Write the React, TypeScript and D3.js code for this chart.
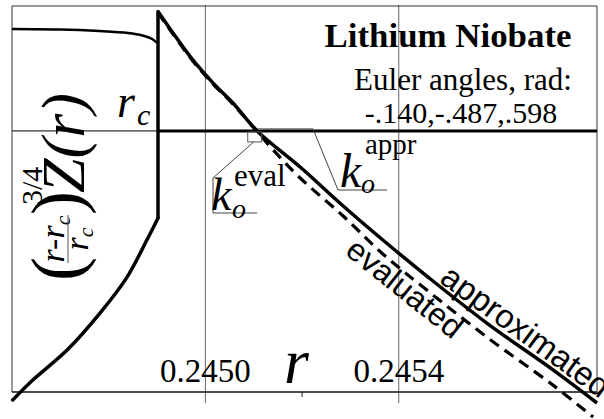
import React from "react";
import * as d3 from "d3";

// axis ranges
const rDomain = [0.2446, 0.24581];
const valueDomain = [-2.09, 1.0];
const rc = 0.244902;

const gridR = [0.245, 0.2454];
const gridLabels = ["0.2450", "0.2454"];
const minorR = [0.2452];

// r < rc, upper (thin) branch
const upperR = [0.2446, 0.2447, 0.24478, 0.24484, 0.24487, 0.24489, 0.2449];
const upperV = [0.816, 0.812, 0.8, 0.784, 0.764, 0.736, 0.704];

// r < rc, lower branch, ends at the jump
const lowerR = [0.2446015, 0.244643, 0.244714, 0.244782, 0.244838, 0.244879, 0.244898, 0.244902];
const lowerV = [-2.154, -1.994, -1.754, -1.458, -1.17, -0.873, -0.729, -0.697];

// r > rc, approximated
const apprR = [0.244902, 0.244933, 0.244974, 0.245016, 0.245057, 0.245107, 0.245196, 0.245285, 0.245367, 0.245458, 0.245582, 0.245719, 0.24581];
const apprV = [0.956, 0.784, 0.568, 0.383, 0.223, 0, -0.289, -0.601, -0.873, -1.162, -1.538, -1.913, -2.178];

// r > rc, evaluated
const evalR = [0.244902, 0.244933, 0.244974, 0.245016, 0.245057, 0.245107, 0.245144, 0.245196, 0.245285, 0.245367, 0.245458, 0.245582, 0.245719, 0.245802];
const evalV = [0.948, 0.776, 0.56, 0.375, 0.215, -0.005, -0.168, -0.377, -0.681, -0.985, -1.274, -1.65, -2.035, -2.291];

const koEval = 0.2451;
const koAppr = 0.245107;

const serif = "'Liberation Serif', 'Times New Roman', serif";
const sans = "'Liberation Sans', Arial, sans-serif";

const App = () => {
  const x = d3.scaleLinear().domain(rDomain).range([12, 597]);
  const y = d3.scaleLinear().domain(valueDomain).range([392, 6]);

  const line = d3
    .line<[number, number]>()
    .x((d) => x(d[0]))
    .y((d) => y(d[1]))
    .curve(d3.curveCatmullRom.alpha(0.5));

  const zip = (rs: number[], vs: number[]) => rs.map((r, i) => [r, vs[i]] as [number, number]);
  const upper = zip(upperR, upperV);
  const lower = zip(lowerR, lowerV);
  const appr = zip(apprR, apprV);
  const evald = zip(evalR, evalV);
  const jump = [lower[lower.length - 1], appr[0]];

  const x0 = x(rDomain[0]);
  const x1 = x(rDomain[1]);
  const yTop = y(valueDomain[1]);
  const yBot = y(valueDomain[0]);
  const yZero = y(0);

  const ex = x(koEval);
  const ax = x(koAppr);

  return (
    <svg width={604} height={419} style={{ position: "absolute", left: 0, top: 0, background: "#fff" }}>
      {/* grid */}
      {gridR.map((r) => (
        <line key={r} x1={x(r)} x2={x(r)} y1={yTop - 1} y2={yBot + 11} stroke="#666" strokeWidth={1} />
      ))}
      {minorR.map((r) => (
        <line key={r} x1={x(r)} x2={x(r)} y1={yBot} y2={yBot + 5} stroke="#222" strokeWidth={1} />
      ))}
      <line x1={x0} x2={x1} y1={yZero} y2={yZero} stroke="#000" strokeWidth={1} />
      {/* frame */}
      <line x1={x0} x2={x0} y1={yTop} y2={yBot} stroke="#333" strokeWidth={1} />
      <line x1={x0} x2={x1} y1={yTop} y2={yTop} stroke="#333" strokeWidth={1} />
      <line x1={x1} x2={x1} y1={yTop} y2={yBot} stroke="#333" strokeWidth={1} />
      <line x1={x0} x2={x1} y1={yBot} y2={yBot} stroke="#111" strokeWidth={1.4} />

      {/* zero level for r > rc */}
      <line x1={x(rc)} x2={x1} y1={yZero} y2={yZero} stroke="#000" strokeWidth={3} />

      {/* curves */}
      <path d={line(upper) || ""} fill="none" stroke="#000" strokeWidth={2.5} />
      <path d={line(lower) || ""} fill="none" stroke="#000" strokeWidth={3.5} strokeLinecap="round" />
      <path d={d3.line<[number, number]>().x((d) => x(d[0])).y((d) => y(d[1]))(jump) || ""} fill="none" stroke="#000" strokeWidth={3.5} strokeLinecap="round" />
      <path d={line(evald) || ""} fill="none" stroke="#000" strokeWidth={3.2} strokeDasharray="11 7" />
      <path d={line(appr) || ""} fill="none" stroke="#000" strokeWidth={3.5} strokeLinejoin="round" />

      {/* k_o eval annotation */}
      <rect x={ex - 6} y={yZero + 1} width={14} height={10} fill="none" stroke="#555" strokeWidth={1} />
      <polyline points={`${ex},${yZero + 11} 213,178 213,213 257,213`} fill="none" stroke="#444" strokeWidth={1} />
      <text x={211} y={210} fontFamily={serif} fontStyle="italic" fontSize={46}>k</text>
      <text x={232} y={218} fontFamily={serif} fontStyle="italic" fontSize={28}>o</text>
      <text x={234} y={186} fontFamily={serif} fontSize={31}>eval</text>

      {/* k_o appr annotation */}
      <polyline points={`${ax},${yZero - 2} 313,${yZero - 2} 338,190 387,190`} fill="none" stroke="#444" strokeWidth={1} />
      <text x={340} y={187} fontFamily={serif} fontStyle="italic" fontSize={48}>k</text>
      <text x={361} y={193} fontFamily={serif} fontStyle="italic" fontSize={28}>o</text>
      <text x={365} y={154} fontFamily={serif} fontSize={29}>appr</text>

      {/* r_c */}
      <text x={117} y={117} fontFamily={serif} fontStyle="italic" fontSize={46}>r</text>
      <text x={137} y={125} fontFamily={serif} fontStyle="italic" fontSize={30}>c</text>

      {/* title block */}
      <text x={448} y={47} textAnchor="middle" fontFamily={serif} fontWeight="bold" fontSize={33} textLength={247} lengthAdjust="spacingAndGlyphs">
        Lithium Niobate
      </text>
      <text x={463} y={90} textAnchor="middle" fontFamily={serif} fontSize={31}>Euler angles, rad:</text>
      <text x={461} y={123} textAnchor="middle" fontFamily={serif} fontSize={30}>-.140,-.487,.598</text>

      {/* x tick labels */}
      {gridR.map((r, i) => (
        <text key={r} x={x(r)} y={382} textAnchor="middle" fontFamily={serif} fontSize={33}>
          {gridLabels[i]}
        </text>
      ))}
      <text x={284} y={383} fontFamily={serif} fontStyle="italic" fontSize={64}>r</text>

      {/* curve labels */}
      <text transform="translate(405,288) rotate(38.5)" textAnchor="middle" dy="0.35em" fontFamily={sans} fontSize={32}>
        evaluated
      </text>
      <text transform="translate(526,331) rotate(36)" textAnchor="middle" dy="0.35em" fontFamily={sans} fontSize={33}>
        approximated
      </text>

      {/* y label: ((r-rc)/rc)^(3/4) Z(r) */}
      <g transform="translate(84,281) rotate(-90)" fontFamily={serif}>
        <text x={0} y={-3} fontSize={72}>(</text>
        <text x={42} y={-20} textAnchor="middle" fontStyle="italic" fontSize={34}>
          r-r<tspan fontSize={22} dy={6}>c</tspan>
        </text>
        <line x1={18} x2={66} y1={-16} y2={-16} stroke="#555" strokeWidth={1} />
        <text x={42} y={4} textAnchor="middle" fontStyle="italic" fontSize={34}>
          r<tspan fontSize={22} dy={5}>c</tspan>
        </text>
        <text x={66} y={-3} fontSize={72}>)</text>
        <text x={76} y={-42} fontSize={30}>3/4</text>
        <text x={88} y={0} fontStyle="italic" fontSize={62}>Z(r)</text>
      </g>
    </svg>
  );
};

export default App;
